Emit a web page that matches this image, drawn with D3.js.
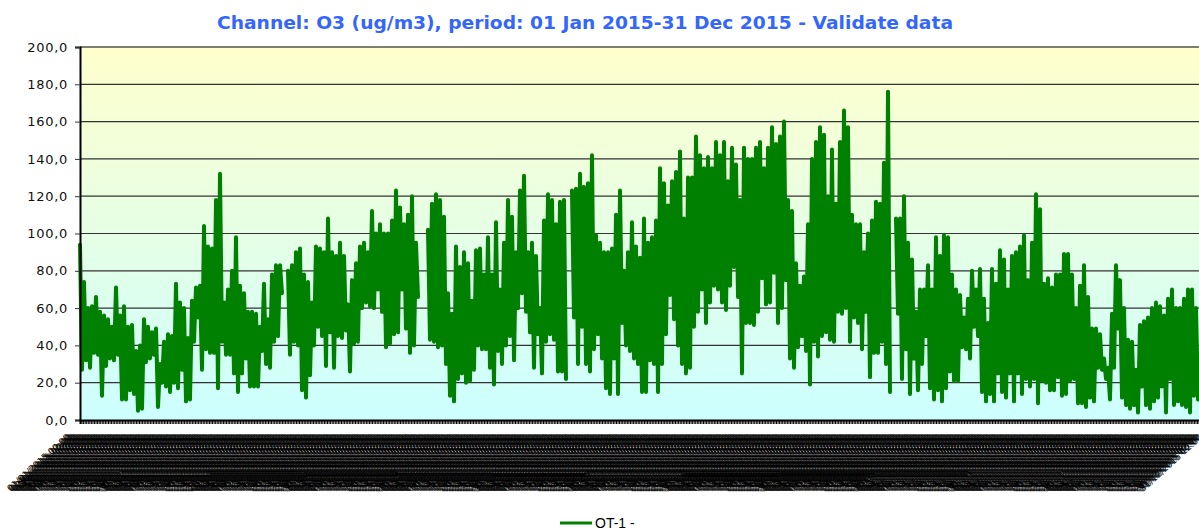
<!DOCTYPE html>
<html>
<head>
<meta charset="utf-8">
<script src="https://cdn.jsdelivr.net/npm/d3@7"></script>
<style>
  html, body { margin: 0; padding: 0; background: #fff; overflow: hidden; }
  svg { display: block; }
  text { font-family: "DejaVu Sans", sans-serif; }
</style>
</head>
<body>
<svg id="graph" width="1199" height="528"></svg>
<script>
var titleText = 'Channel: O3 (ug/m3), period: 01 Jan 2015-31 Dec 2015 - Validate data';
var seriesName = 'OT-1 -';
var yTicks = [0, 20, 40, 60, 80, 100, 120, 140, 160, 180, 200];

// one high and one low per step along the year; null = no data
var peaks = [
	94,74,60,61,66,58,56,54,50,71,56,61,50,51,37,40,54,50,47,49,
	30,42,46,45,73,63,60,44,64,71,72,104,93,92,118,132,63,70,80,98,
	72,68,58,58,57,50,73,54,78,83,83,null,80,83,90,92,78,74,63,93,
	92,90,108,90,88,95,88,62,75,84,93,95,90,112,100,105,100,100,107,123,
	114,105,110,120,95,null,null,102,116,121,118,109,68,57,93,82,90,84,64,91,
	92,78,98,78,106,70,95,118,109,90,123,131,90,95,88,60,107,121,118,105,
	117,118,null,123,124,132,125,127,142,99,95,90,90,92,110,123,80,90,106,93,
	87,108,95,98,107,135,127,115,128,133,144,108,130,130,152,142,135,141,135,149,
	142,149,128,146,137,118,146,140,140,146,149,135,146,157,148,152,160,118,112,84,
	72,77,105,140,149,157,153,120,145,116,149,166,157,110,105,105,90,100,107,117,
	116,138,176,null,108,108,120,95,86,58,70,70,83,70,98,88,99,98,78,70,
	67,55,65,80,70,81,65,52,81,73,91,86,70,88,90,93,99,75,95,121,
	113,73,76,71,78,78,89,89,78,60,72,83,66,49,49,46,33,28,57,83,
	75,60,43,42,27,51,53,55,60,63,61,56,65,70,60,60,65,70,70,60
];
var troughs = [
	27,32,28,36,35,13,29,33,32,35,11,11,16,14,5,6,31,33,35,7,
	20,18,15,20,17,27,10,11,42,55,27,38,36,36,17,42,35,35,25,15,
	25,33,18,18,18,37,30,28,42,45,68,null,35,42,40,16,12,24,40,50,
	45,29,47,28,45,44,48,26,41,42,60,63,61,60,70,58,39,41,46,47,
	70,49,36,40,66,null,null,43,42,39,40,30,13,10,22,25,20,21,27,40,
	38,38,28,19,37,30,40,45,32,60,68,58,47,28,46,25,42,46,43,26,
	26,22,null,55,30,50,30,26,38,46,33,17,14,33,14,52,40,37,33,30,
	15,15,32,30,15,30,46,67,54,40,30,25,28,50,58,70,52,63,72,70,
	63,59,72,82,66,25,52,52,51,58,76,62,63,79,52,60,75,33,28,39,
	45,37,19,42,34,45,47,43,42,58,57,60,42,55,52,38,58,23,36,36,
	42,30,15,null,57,22,38,14,33,16,30,45,17,11,16,10,17,26,21,21,
	39,38,33,50,45,15,10,14,10,25,15,12,25,10,25,14,22,18,22,9,
	21,20,16,16,23,13,14,21,22,9,9,7,12,10,28,27,22,11,28,49,
	12,8,6,8,4,18,8,6,10,12,18,4,22,8,10,8,7,4,13,11
];

var plot = { left: 80, right: 1198, top: 47, bottom: 420 };

// one point per half step, high then low
var points = [];
peaks.forEach(function(d, i) {
	points.push(d);
	points.push(troughs[i]);
});

var x = d3.scaleLinear().domain([0, points.length - 1]).range([plot.left, plot.right]);
var y = d3.scaleLinear().domain([0, 200]).range([plot.bottom, plot.top]);

var start = new Date(Date.UTC(2015, 0, 1, 0));
var end = new Date(Date.UTC(2015, 11, 31, 23));
// the label block runs on past the right edge of the window
var xTime = d3.scaleUtc().domain([start, end]).range([plot.left, plot.right + 16]);
var xLabels = d3.utcHour.range(start, end, 12);
var labelFormat = d3.utcFormat('%d/%m/%Y %H:%M');

var svg = d3.select('#graph');

// plot background
var grad = svg.append('defs').append('linearGradient')
	.attr('id', 'bg')
	.attr('x1', 0).attr('y1', 0).attr('x2', 0).attr('y2', 1);
grad.append('stop').attr('offset', '0%').attr('stop-color', '#ffffcc');
grad.append('stop').attr('offset', '100%').attr('stop-color', '#ccffff');

svg.append('rect')
	.attr('x', plot.left)
	.attr('y', plot.top)
	.attr('width', plot.right - plot.left + 1)
	.attr('height', plot.bottom - plot.top)
	.attr('fill', 'url(#bg)');

// grid
svg.append('g').selectAll('line')
	.data(yTicks.slice(1))
	.enter()
	.append('line')
	.attr('x1', plot.left)
	.attr('x2', 1199)
	.attr('y1', function(d) { return y(d); })
	.attr('y2', function(d) { return y(d); })
	.attr('stroke', function(d) { return d == 200 ? '#000' : '#333'; })
	.attr('stroke-width', 1.2);

// the series
var line = d3.line()
	.defined(function(d) { return d !== null; })
	.x(function(d, i) { return x(i); })
	.y(function(d) { return y(d); });

svg.append('path')
	.datum(points)
	.attr('d', line)
	.attr('fill', 'none')
	.attr('stroke', '#008000')
	.attr('stroke-width', 4)
	.attr('stroke-linejoin', 'round')
	.attr('stroke-linecap', 'round');

// y axis
var yAxis = svg.append('g')
	.attr('transform', 'translate(' + plot.left + ',0)')
	.call(d3.axisLeft(y)
		.tickValues(yTicks)
		.tickSize(5)
		.tickPadding(7)
		.tickFormat(function(d) { return d3.format('.1f')(d).replace('.', ','); }));
yAxis.select('.domain').attr('stroke', '#000').attr('stroke-width', 2);
yAxis.selectAll('.tick line').attr('stroke', '#333');
yAxis.selectAll('text')
	.attr('fill', '#111')
	.style('font-family', '"DejaVu Sans", sans-serif')
	.style('font-size', '13px')
	.style('letter-spacing', '0.7px');

// x axis, every label overlaps its neighbours as in the original
var xAxis = svg.append('g')
	.attr('transform', 'translate(0,' + plot.bottom + ')')
	.call(d3.axisBottom(xTime)
		.tickValues(xLabels)
		.tickSize(4)
		.tickFormat(labelFormat));
xAxis.select('.domain').attr('stroke', '#000').attr('stroke-width', 2);
xAxis.selectAll('.tick line').attr('stroke', '#000');
xAxis.selectAll('text')
	.attr('fill', '#000')
	.attr('text-anchor', 'end')
	.attr('y', 0)
	.attr('dy', 0)
	.attr('transform', 'translate(-10,18) rotate(-42)')
	.style('font-family', '"DejaVu Sans", sans-serif')
	.style('font-size', '9px');

// title
svg.append('text')
	.attr('x', 585)
	.attr('y', 29)
	.attr('text-anchor', 'middle')
	.attr('textLength', 736)
	.attr('lengthAdjust', 'spacingAndGlyphs')
	.attr('fill', '#3366ff')
	.style('font-size', '18px')
	.style('font-weight', 'bold')
	.text(titleText);

// legend
svg.append('line')
	.attr('x1', 560).attr('x2', 592)
	.attr('y1', 523).attr('y2', 523)
	.attr('stroke', '#008000')
	.attr('stroke-width', 3);
svg.append('text')
	.attr('x', 595)
	.attr('y', 528)
	.attr('fill', '#000')
	.style('font-family', '"Liberation Sans", sans-serif')
	.style('font-size', '14px')
	.text(seriesName);
</script>
</body>
</html>
